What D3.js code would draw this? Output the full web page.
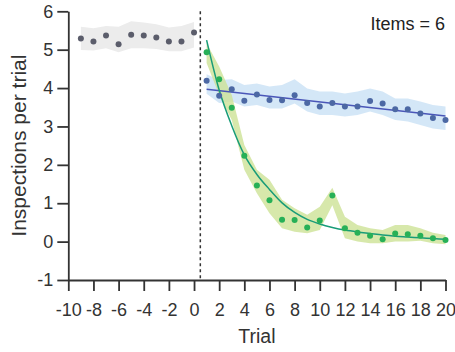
<!DOCTYPE html>
<html>
<head>
<meta charset="utf-8">
<script src="https://cdn.jsdelivr.net/npm/d3@7"></script>
<style>
  html, body { margin: 0; padding: 0; background: #ffffff; }
  svg { display: block; font-family: "Liberation Sans", Arial, Helvetica, sans-serif; }
</style>
</head>
<body>
<svg id="chart" width="455" height="352"></svg>
<script>
// Baseline trials (before the switch)
const baseTrials = [-9, -8, -7, -6, -5, -4, -3, -2, -1, 0];
const baseMean   = [5.29, 5.21, 5.37, 5.14, 5.39, 5.37, 5.32, 5.21, 5.21, 5.45];
const baseUpper  = [5.60, 5.56, 5.62, 5.60, 5.74, 5.71, 5.66, 5.58, 5.62, 5.72];
const baseLower  = [4.99, 4.98, 5.04, 4.93, 5.04, 5.04, 5.02, 4.96, 4.96, 5.06];

// Test trials
const trials = [1, 2, 3, 4, 5, 6, 7, 8, 9, 10, 11, 12, 13, 14, 15, 16, 17, 18, 19, 20];

// Blue condition
const blueMean  = [4.19, 3.80, 3.97, 3.67, 3.83, 3.69, 3.68, 3.81, 3.61, 3.52, 3.61, 3.52, 3.52, 3.66, 3.60, 3.45, 3.45, 3.34, 3.22, 3.17];
const blueUpper = [4.36, 4.21, 4.23, 4.08, 4.12, 4.04, 4.08, 4.23, 3.99, 3.91, 3.91, 3.86, 3.91, 3.99, 3.91, 3.73, 3.73, 3.65, 3.56, 3.52];
const blueLower = [3.85, 3.61, 3.65, 3.52, 3.56, 3.47, 3.47, 3.60, 3.39, 3.30, 3.30, 3.26, 3.30, 3.39, 3.30, 3.17, 3.13, 3.04, 2.95, 2.91];
const blueFitTrials = [1, 20];
const blueFit       = [3.97, 3.27];

// Green condition
const greenMean  = [4.93, 4.23, 3.49, 2.24, 1.46, 1.08, 0.57, 0.56, 0.37, 0.55, 1.20, 0.35, 0.23, 0.15, 0.06, 0.21, 0.19, 0.15, 0.09, 0.04];
const greenUpper = [5.17, 4.56, 3.82, 2.52, 1.87, 1.61, 1.09, 0.87, 0.70, 0.91, 1.40, 0.65, 0.43, 0.35, 0.30, 0.43, 0.43, 0.35, 0.23, 0.17];
const greenLower = [4.65, 3.82, 3.17, 1.87, 1.26, 0.74, 0.35, 0.26, 0.22, 0.30, 0.95, 0.09, 0.00, -0.04, -0.04, 0.00, 0.00, 0.02, -0.04, -0.07];
const greenFit   = [5.25, 3.95, 3.02, 2.26, 1.75, 1.36, 1.01, 0.76, 0.58, 0.46, 0.37, 0.30, 0.25, 0.21, 0.17, 0.14, 0.12, 0.10, 0.08, 0.06];

// Axes
const xTicks = [-10, -8, -6, -4, -2, 0, 2, 4, 6, 8, 10, 12, 14, 16, 18, 20];
const yTicks = [-1, 0, 1, 2, 3, 4, 5, 6];
const switchTrial = 0.5;
const annotation = "Items = 6";
const xTitle = "Trial";
const yTitle = "Inspections per trial";

const svg = d3.select("#chart");
const x = d3.scaleLinear().domain([-10, 20]).range([68.3, 445.5]);
const y = d3.scaleLinear().domain([-1, 6]).range([280, 11.3]);

const axisColor = "#333333";

function band(xs, lo, hi, fill) {
  const pts = xs.map((t, i) => ({ t, lo: lo[i], hi: hi[i] }));
  svg.append("path")
    .datum(pts)
    .attr("fill", fill)
    .attr("d", d3.area().x(d => x(d.t)).y0(d => y(d.lo)).y1(d => y(d.hi)));
}

function line(xs, vals, stroke, curve) {
  const pts = xs.map((t, i) => ({ t, v: vals[i] }));
  svg.append("path")
    .datum(pts)
    .attr("fill", "none")
    .attr("stroke", stroke)
    .attr("stroke-width", 1.5)
    .attr("d", d3.line().x(d => x(d.t)).y(d => y(d.v)).curve(curve));
}

function dots(xs, vals, fill) {
  svg.append("g").selectAll("circle")
    .data(xs.map((t, i) => ({ t, v: vals[i] })))
    .join("circle")
    .attr("cx", d => x(d.t))
    .attr("cy", d => y(d.v))
    .attr("r", 3)
    .attr("fill", fill);
}

// Shaded error bands
band(baseTrials, baseLower, baseUpper, "#ececec");
band(trials, blueLower, blueUpper, "rgba(205,227,246,0.85)");
band(trials, greenLower, greenUpper, "rgba(205,226,150,0.8)");

// Fitted curves
line(blueFitTrials, blueFit, "#4a56b8", d3.curveLinear);
line(trials, greenFit, "#189c78", d3.curveMonotoneX);

// Trial means
dots(baseTrials, baseMean, "#5b5d6b");
dots(trials, blueMean, "#4c68a4");
dots(trials, greenMean, "#27b057");

// Switch marker
svg.append("line")
  .attr("x1", x(switchTrial)).attr("x2", x(switchTrial))
  .attr("y1", y(6)).attr("y2", y(-1))
  .attr("stroke", axisColor)
  .attr("stroke-width", 1.5)
  .attr("stroke-dasharray", "3,3");

// X axis
const xAxis = svg.append("g")
  .attr("transform", `translate(0,${y(-1)})`)
  .call(d3.axisBottom(x).tickValues(xTicks).tickSize(11).tickSizeOuter(0).tickPadding(12).tickFormat(d3.format("d")));
// Y axis
const yAxis = svg.append("g")
  .attr("transform", `translate(${x(-10)},0)`)
  .call(d3.axisLeft(y).tickValues(yTicks).tickSize(11).tickSizeOuter(0).tickPadding(4).tickFormat(d3.format("d")));

[xAxis, yAxis].forEach(g => {
  g.select(".domain").attr("stroke", axisColor).attr("stroke-width", 1.8);
  g.selectAll(".tick line").attr("stroke", axisColor).attr("stroke-width", 1.8);
  g.selectAll(".tick text")
    .attr("fill", "#333")
    .style("font-size", "18px")
    .style("font-family", "'Liberation Sans', Arial, sans-serif");
});
// plain hyphen for negatives
xAxis.selectAll(".tick text").text(d => String(d).replace("\u2212", "-"));
yAxis.selectAll(".tick text").text(d => String(d).replace("\u2212", "-"));

// Titles
svg.append("text")
  .attr("x", (x(-10) + x(20)) / 2)
  .attr("y", 343)
  .attr("text-anchor", "middle")
  .attr("fill", "#333")
  .style("font-size", "19.5px")
  .text(xTitle);

svg.append("text")
  .attr("transform", `translate(26,${(y(6) + y(-1)) / 2}) rotate(-90)`)
  .attr("text-anchor", "middle")
  .attr("fill", "#333")
  .style("font-size", "21px")
  .text(yTitle);

svg.append("text")
  .attr("x", 445)
  .attr("y", 30)
  .attr("text-anchor", "end")
  .attr("fill", "#222")
  .style("font-size", "18px")
  .text(annotation);
</script>
</body>
</html>
